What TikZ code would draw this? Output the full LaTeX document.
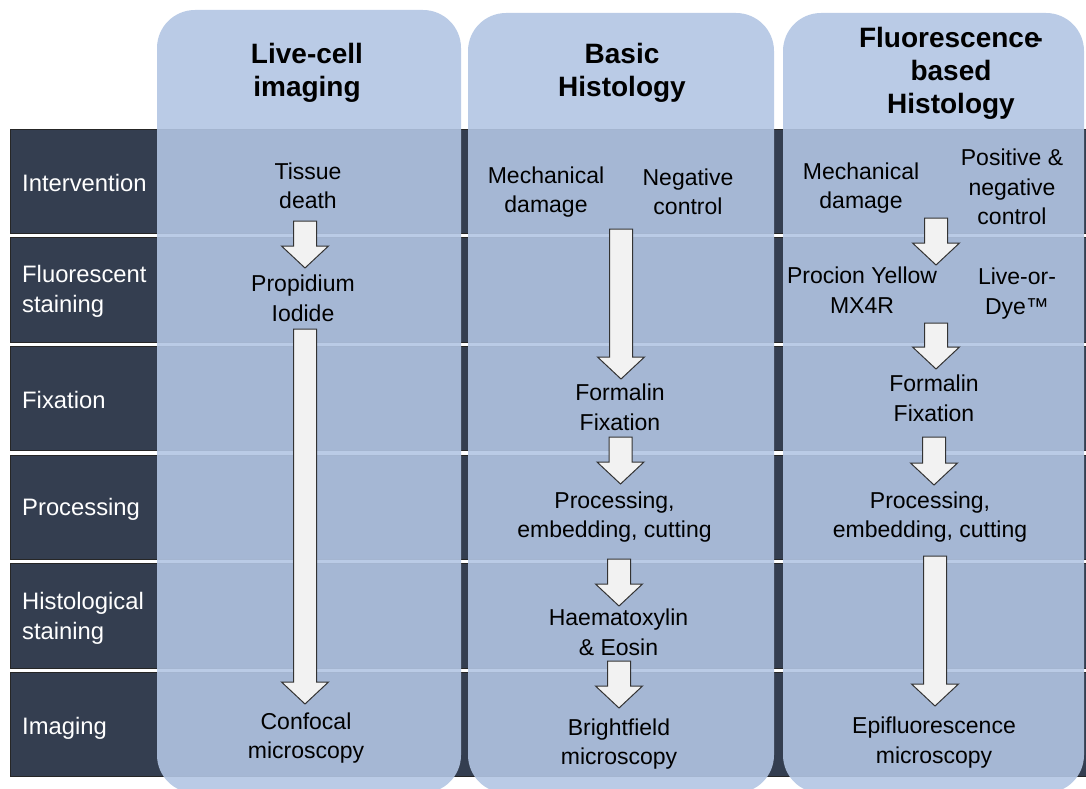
\documentclass[tikz,border=0pt]{standalone}
\usepackage{fontspec}
\setmainfont{Liberation Sans}
\usetikzlibrary{calc}

\definecolor{bandfill}{HTML}{343E50}
\definecolor{bandline}{HTML}{262626}
\definecolor{lanefill}{RGB}{178,197,227}
\definecolor{arrowfill}{HTML}{F2F2F2}
\definecolor{arrowline}{HTML}{333333}

\tikzset{
  band/.style={fill=bandfill, draw=bandline, line width=0.8pt},
  lane/.style={fill=lanefill, fill opacity=0.9, rounded corners=38pt},
  rowlabel/.style={anchor=west, text=white, align=left, inner sep=0pt,
    font=\fontsize{23.8}{29.5}\selectfont},
  heading/.style={align=center, inner sep=0pt,
    font=\bfseries\fontsize{28}{33}\selectfont},
  cell/.style={align=center, inner sep=0pt,
    font=\fontsize{23}{29.5}\selectfont},
  blockarrow/.style={fill=arrowfill, draw=arrowline, line width=1pt, line join=miter}
}

% block arrow pointing down from #1 to the tip #2
\newcommand{\blockarrow}[2]{%
  \filldraw[blockarrow] let \p1=(#1), \p2=(#2) in
    (\x1-11.5pt,\y1) -- (\x1+11.5pt,\y1) -- (\x1+11.5pt,\y2+22pt)
    -- (\x1+23.5pt,\y2+22pt) -- (\x1,\y2) -- (\x1-23.5pt,\y2+22pt)
    -- (\x1-11.5pt,\y2+22pt) -- cycle;}

\begin{document}
\begin{tikzpicture}[x=1pt, y=-1pt]
  \useasboundingbox (0,0) rectangle (1086,789);

  % row bands
  \draw[band] (10,129) rectangle (1095,233.3);
  \draw[band] (10,237.7) rectangle (1095,342);
  \draw[band] (10,346.4) rectangle (1095,450.7);
  \draw[band] (10,455.1) rectangle (1095,559.4);
  \draw[band] (10,563.8) rectangle (1095,668.1);
  \draw[band] (10,672.5) rectangle (1095,776.8);

  \node[rowlabel] (intervention) at (22,183) {Intervention};
  \node[rowlabel] (fluostain) at (22,291.5) {Fluorescent\\staining};
  \node[rowlabel] (fixation) at (22,400) {Fixation};
  \node[rowlabel] (processing) at (22,509) {Processing};
  \node[rowlabel] (histostain) at (22,618.5) {Histological\\staining};
  \node[rowlabel] (imaging) at (22,728) {Imaging};

  % lanes
  \fill[lane] (157,10) rectangle (461,793);
  \fill[lane] (468,13) rectangle (774,793);
  \fill[lane] (783,13) rectangle (1084,793);

  \node[heading] (live) at (307,72.5) {Live-cell\\imaging};
  \node[heading] (basic) at (622,72.5) {Basic\\Histology};
  \node[heading] (fluor) at (951,73) {Fluorescence\kern-6pt-\\based\\Histology};

  % live-cell imaging
  \node[cell] (tissue) at (308,186) {Tissue\\death};
  \node[cell] (propidium) at (303,298.5) {Propidium\\Iodide};
  \node[cell] (confocal) at (306,738) {Confocal\\microscopy};

  % basic histology
  \node[cell] (mech2) at (546,192) {Mechanical\\damage};
  \node[cell] (neg2) at (688,192) {Negative\\control};
  \node[cell] (formalin2) at (620,407.5) {Formalin\\Fixation};
  \node[cell] (proc2) at (614.5,517) {Processing,\\embedding, cutting};
  \node[cell] (hande) at (618.5,632.5) {Haematoxylin\\\& Eosin};
  \node[cell] (bright) at (619,744) {Brightfield\\microscopy};

  % fluorescence-based histology
  \node[cell] (mech3) at (861,188) {Mechanical\\damage};
  \node[cell] (pos3) at (1012,187) {Positive \&\\negative\\control};
  \node[cell] (procion) at (862,290) {Procion Yellow\\MX4R};
  \node[cell] (liveor) at (1017,293.5) {Live-or-\\Dye™};
  \node[cell] (formalin3) at (934,398.5) {Formalin\\Fixation};
  \node[cell] (proc3) at (930,517) {Processing,\\embedding, cutting};
  \node[cell] (epi) at (934,742.5) {Epifluorescence\\microscopy};

  % arrows
  \coordinate (l1a) at (305,221);
  \coordinate (l1b) at (305,268);
  \coordinate (l2a) at (305,329);
  \coordinate (l2b) at (305,704);
  \coordinate (b1a) at (621,229);
  \coordinate (b1b) at (621,379);
  \coordinate (b2a) at (620.5,437);
  \coordinate (b2b) at (620.5,484);
  \coordinate (b3a) at (619,559);
  \coordinate (b3b) at (619,606);
  \coordinate (b4a) at (619,661);
  \coordinate (b4b) at (619,708);
  \coordinate (f1a) at (936,218);
  \coordinate (f1b) at (936,265);
  \coordinate (f2a) at (936,323);
  \coordinate (f2b) at (936,369);
  \coordinate (f3a) at (934,437);
  \coordinate (f3b) at (934,485);
  \coordinate (f4a) at (935,556);
  \coordinate (f4b) at (935,706);

  \blockarrow{l1a}{l1b}
  \blockarrow{l2a}{l2b}
  \blockarrow{b1a}{b1b}
  \blockarrow{b2a}{b2b}
  \blockarrow{b3a}{b3b}
  \blockarrow{b4a}{b4b}
  \blockarrow{f1a}{f1b}
  \blockarrow{f2a}{f2b}
  \blockarrow{f3a}{f3b}
  \blockarrow{f4a}{f4b}
\end{tikzpicture}
\end{document}
